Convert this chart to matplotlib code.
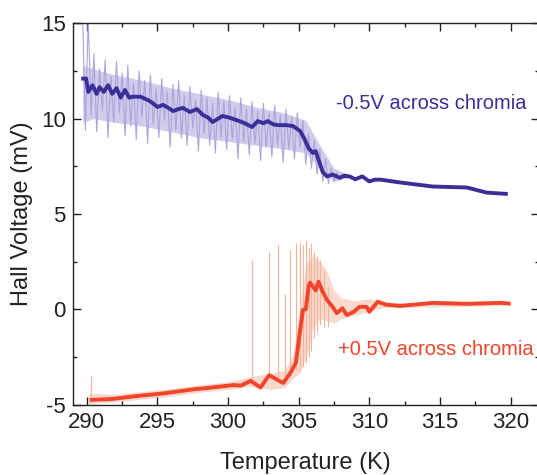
import numpy as np
import matplotlib.pyplot as plt
from matplotlib.ticker import MultipleLocator

plt.rcParams['font.family'] = ['Liberation Sans', 'DejaVu Sans']
plt.rcParams['axes.unicode_minus'] = False

# smoothed curve, -0.5 V across chromia
blue_T = [289.6, 289.95, 290.1, 290.4, 290.7, 290.9, 291.2, 291.5, 291.8, 292.1, 292.4,
          292.7, 293.0, 293.2, 293.8, 294.3, 294.6, 295.0, 295.4, 295.8, 296.1, 296.5,
          296.8, 297.3, 297.8, 298.2, 298.6, 298.9, 299.3, 299.6, 300.1, 300.8, 301.2,
          301.7, 302.1, 302.5, 302.8, 303.2, 303.5, 304.1, 304.6, 305.1, 305.4, 305.7,
          306.0, 306.2, 306.4, 306.7, 307.0, 307.4, 307.9, 308.2, 308.6, 309.0, 309.5,
          310.0, 310.4, 310.8, 312.2, 314.5, 316.9, 318.3, 319.8]
blue_V = [12.1, 12.1, 11.4, 11.75, 11.3, 11.65, 11.4, 11.75, 11.3, 11.6, 11.1,
          11.5, 11.1, 11.15, 11.15, 10.98, 10.85, 10.61, 10.72, 10.55, 10.4, 10.5,
          10.56, 10.35, 10.5, 10.2, 10.05, 9.82, 10.0, 10.14, 10.05, 9.87, 9.75,
          9.56, 9.87, 9.76, 9.87, 9.7, 9.66, 9.66, 9.61, 9.35, 8.95, 8.45,
          8.2, 8.3, 7.85, 7.2, 6.97, 7.07, 6.9, 7.0, 6.97, 6.82, 6.97,
          6.71, 6.8, 6.8, 6.65, 6.44, 6.39, 6.12, 6.05]

# raw (noisy) trace, -0.5 V: (T, V) pairs
blue_raw = [(289.7, 15.5), (289.9, 9.4), (290.1, 15.3), (290.3, 10.2), (290.5, 13.4),
            (290.7, 9.3), (290.9, 12.6), (291.1, 10.4), (291.3, 13.1), (291.5, 9.0),
            (291.7, 12.2), (291.9, 9.8), (292.1, 13.0), (292.3, 10.3), (292.5, 12.4),
            (292.7, 9.1), (292.9, 12.8), (293.1, 9.6), (293.3, 11.9), (293.5, 8.9),
            (293.7, 12.5), (293.9, 10.1), (294.1, 12.0), (294.3, 8.7), (294.5, 12.3),
            (294.7, 9.7), (294.9, 11.6), (295.1, 9.0), (295.3, 12.1), (295.5, 9.9),
            (295.7, 11.4), (295.9, 8.5), (296.1, 11.8), (296.3, 9.4), (296.5, 12.0),
            (296.7, 9.0), (296.9, 11.2), (297.1, 8.6), (297.3, 11.7), (297.5, 9.5),
            (297.7, 11.0), (297.9, 8.3), (298.1, 11.5), (298.3, 9.2), (298.5, 11.1),
            (298.7, 8.6), (298.9, 10.8), (299.1, 8.2), (299.3, 11.4), (299.5, 9.0),
            (299.7, 10.9), (299.9, 8.4), (300.1, 11.2), (300.3, 8.9), (300.5, 10.6),
            (300.7, 7.9), (300.9, 11.1), (301.1, 8.8), (301.3, 10.5), (301.5, 8.1),
            (301.7, 10.9), (301.9, 8.7), (302.1, 10.4), (302.3, 7.8), (302.5, 10.8),
            (302.7, 8.5), (302.9, 10.3), (303.1, 8.0), (303.3, 10.7), (303.5, 8.6),
            (303.7, 10.2), (303.9, 7.7), (304.1, 10.5), (304.3, 8.4), (304.5, 10.1),
            (304.7, 7.9), (304.9, 10.3), (305.1, 8.5), (305.3, 9.9), (305.5, 7.6),
            (305.7, 9.2), (305.9, 7.4), (306.1, 8.9), (306.3, 7.1), (306.5, 8.4),
            (306.7, 6.7), (306.9, 7.9), (307.1, 6.6), (307.3, 7.4), (307.5, 6.7),
            (307.7, 7.2), (307.9, 6.8), (308.1, 7.1), (308.3, 6.9)]
blue_band_T = [289.7, 290.5, 292, 294, 296, 298, 300, 302, 304, 305.5, 306.5, 307.5, 308.5]
blue_band_hi = [12.8, 12.6, 12.3, 12.0, 11.6, 11.3, 11.0, 10.6, 10.3, 9.9, 8.6, 7.4, 7.1]
blue_band_lo = [9.8, 10.0, 9.8, 9.6, 9.3, 9.0, 8.8, 8.6, 8.4, 8.2, 7.4, 6.7, 6.9]

# smoothed curve, +0.5 V across chromia
red_T = [290.2, 291.8, 293.5, 295.5, 297.5, 299.2, 300.4, 300.9, 301.6, 302.3, 302.9,
         303.5, 303.9, 304.4, 304.8, 305.1, 305.3, 305.5, 305.7, 305.8, 306.2, 306.4,
         306.7, 307.0, 307.4, 307.7, 308.1, 308.4, 308.9, 309.3, 309.8, 310.0, 310.6,
         311.2, 312.2, 314.5, 316.9, 319.3, 320.0]
red_V = [-4.75, -4.7, -4.55, -4.4, -4.2, -4.07, -3.97, -4.0, -3.75, -4.1, -3.45,
         -3.7, -3.86, -3.35, -2.8, -1.1, -0.03, 0.0, 1.2, 1.4, 1.0, 1.45,
         0.92, 0.5, 0.13, -0.2, 0.06, -0.3, -0.13, 0.13, 0.13, -0.13, 0.4,
         0.24, 0.18, 0.34, 0.29, 0.34, 0.3]

red_band_T = [290.1, 292, 294, 296, 298, 300, 301.5, 303, 304, 304.6, 305.0, 305.5, 306,
              306.5, 307, 307.5, 308, 309, 310, 311, 312, 320]
red_band_hi = [-4.4, -4.45, -4.3, -4.15, -3.95, -3.8, -3.55, -3.35, -3.2, -2.4, -0.3, 2.4,
               2.8, 2.5, 2.0, 1.0, 0.6, 0.45, 0.55, 0.4, 0.35, 0.4]
red_band_lo = [-4.95, -4.85, -4.7, -4.55, -4.35, -4.2, -4.05, -4.2, -4.1, -3.6, -3.4, -2.6,
               -1.0, -0.5, -0.6, -0.7, -0.5, -0.3, -0.1, 0.1, 0.1, 0.2]
red_spike_T = [290.3, 301.7, 302.9, 303.5, 304.0, 304.4, 304.8, 305.1, 305.3, 305.5, 305.7,
               305.9, 306.1, 306.3, 306.5, 306.8, 307.1]
red_spike_lo = [-4.9, -3.9, -3.6, -3.8, -3.9, -3.5, -3.2, -3.3, -3.0, -2.8, -2.5,
                -2.2, -1.5, -1.2, -0.8, -0.9, -0.9]
red_spike_hi = [-3.5, 2.6, 3.0, 3.4, 0.8, 3.1, 3.5, 3.5, 3.4, 3.6, 3.2,
                3.5, 3.0, 2.8, 2.6, 2.0, 1.2]

blue = '#3b2e98'
blue_lt = '#aba5dc'
red = '#f0452a'
red_lt = '#f4b49c'

fig = plt.figure(figsize=(5.37, 4.75), dpi=100)
ax = fig.add_axes([0.1354, 0.148, 0.868, 0.803])

raw_T = [p[0] for p in blue_raw]
raw_V = [p[1] for p in blue_raw]
ax.fill_between(blue_band_T, blue_band_lo, blue_band_hi, color=blue_lt, alpha=0.55, lw=0)
ax.plot(raw_T, raw_V, color=blue_lt, lw=0.8)
ax.plot(blue_T, blue_V, color=blue, lw=2.8, solid_capstyle='butt')

ax.fill_between(red_band_T, red_band_lo, red_band_hi, color=red_lt, alpha=0.5, lw=0)
ax.vlines(red_spike_T, red_spike_lo, red_spike_hi, color=red_lt, lw=0.8)
ax.plot(red_T, red_V, color=red, lw=2.8, solid_capstyle='butt')

ax.text(314.4, 10.77, '-0.5V across chromia', color=blue, fontsize=14.5,
        ha='center', va='center')
ax.text(314.7, -2.13, '+0.5V across chromia', color=red, fontsize=14.5,
        ha='center', va='center')

ax.set_xlim(289, 322)
ax.set_ylim(-5, 15)
ax.xaxis.set_major_locator(MultipleLocator(5))
ax.xaxis.set_minor_locator(MultipleLocator(2.5))
ax.yaxis.set_major_locator(MultipleLocator(5))
ax.yaxis.set_minor_locator(MultipleLocator(2.5))
ax.tick_params(which='both', direction='in', top=True, right=True, width=1,
               labelsize=16, colors='#222222')
ax.tick_params(which='major', length=5.5, pad=5)
ax.tick_params(which='minor', length=3)
for s in ax.spines.values():
    s.set_linewidth(1)
    s.set_color('#222222')

ax.set_xlabel('Temperature (K)', fontsize=17, color='#222222', labelpad=14)
ax.set_ylabel('Hall Voltage (mV)', fontsize=17, color='#222222', labelpad=6)

fig.savefig('out.png', dpi=100)
